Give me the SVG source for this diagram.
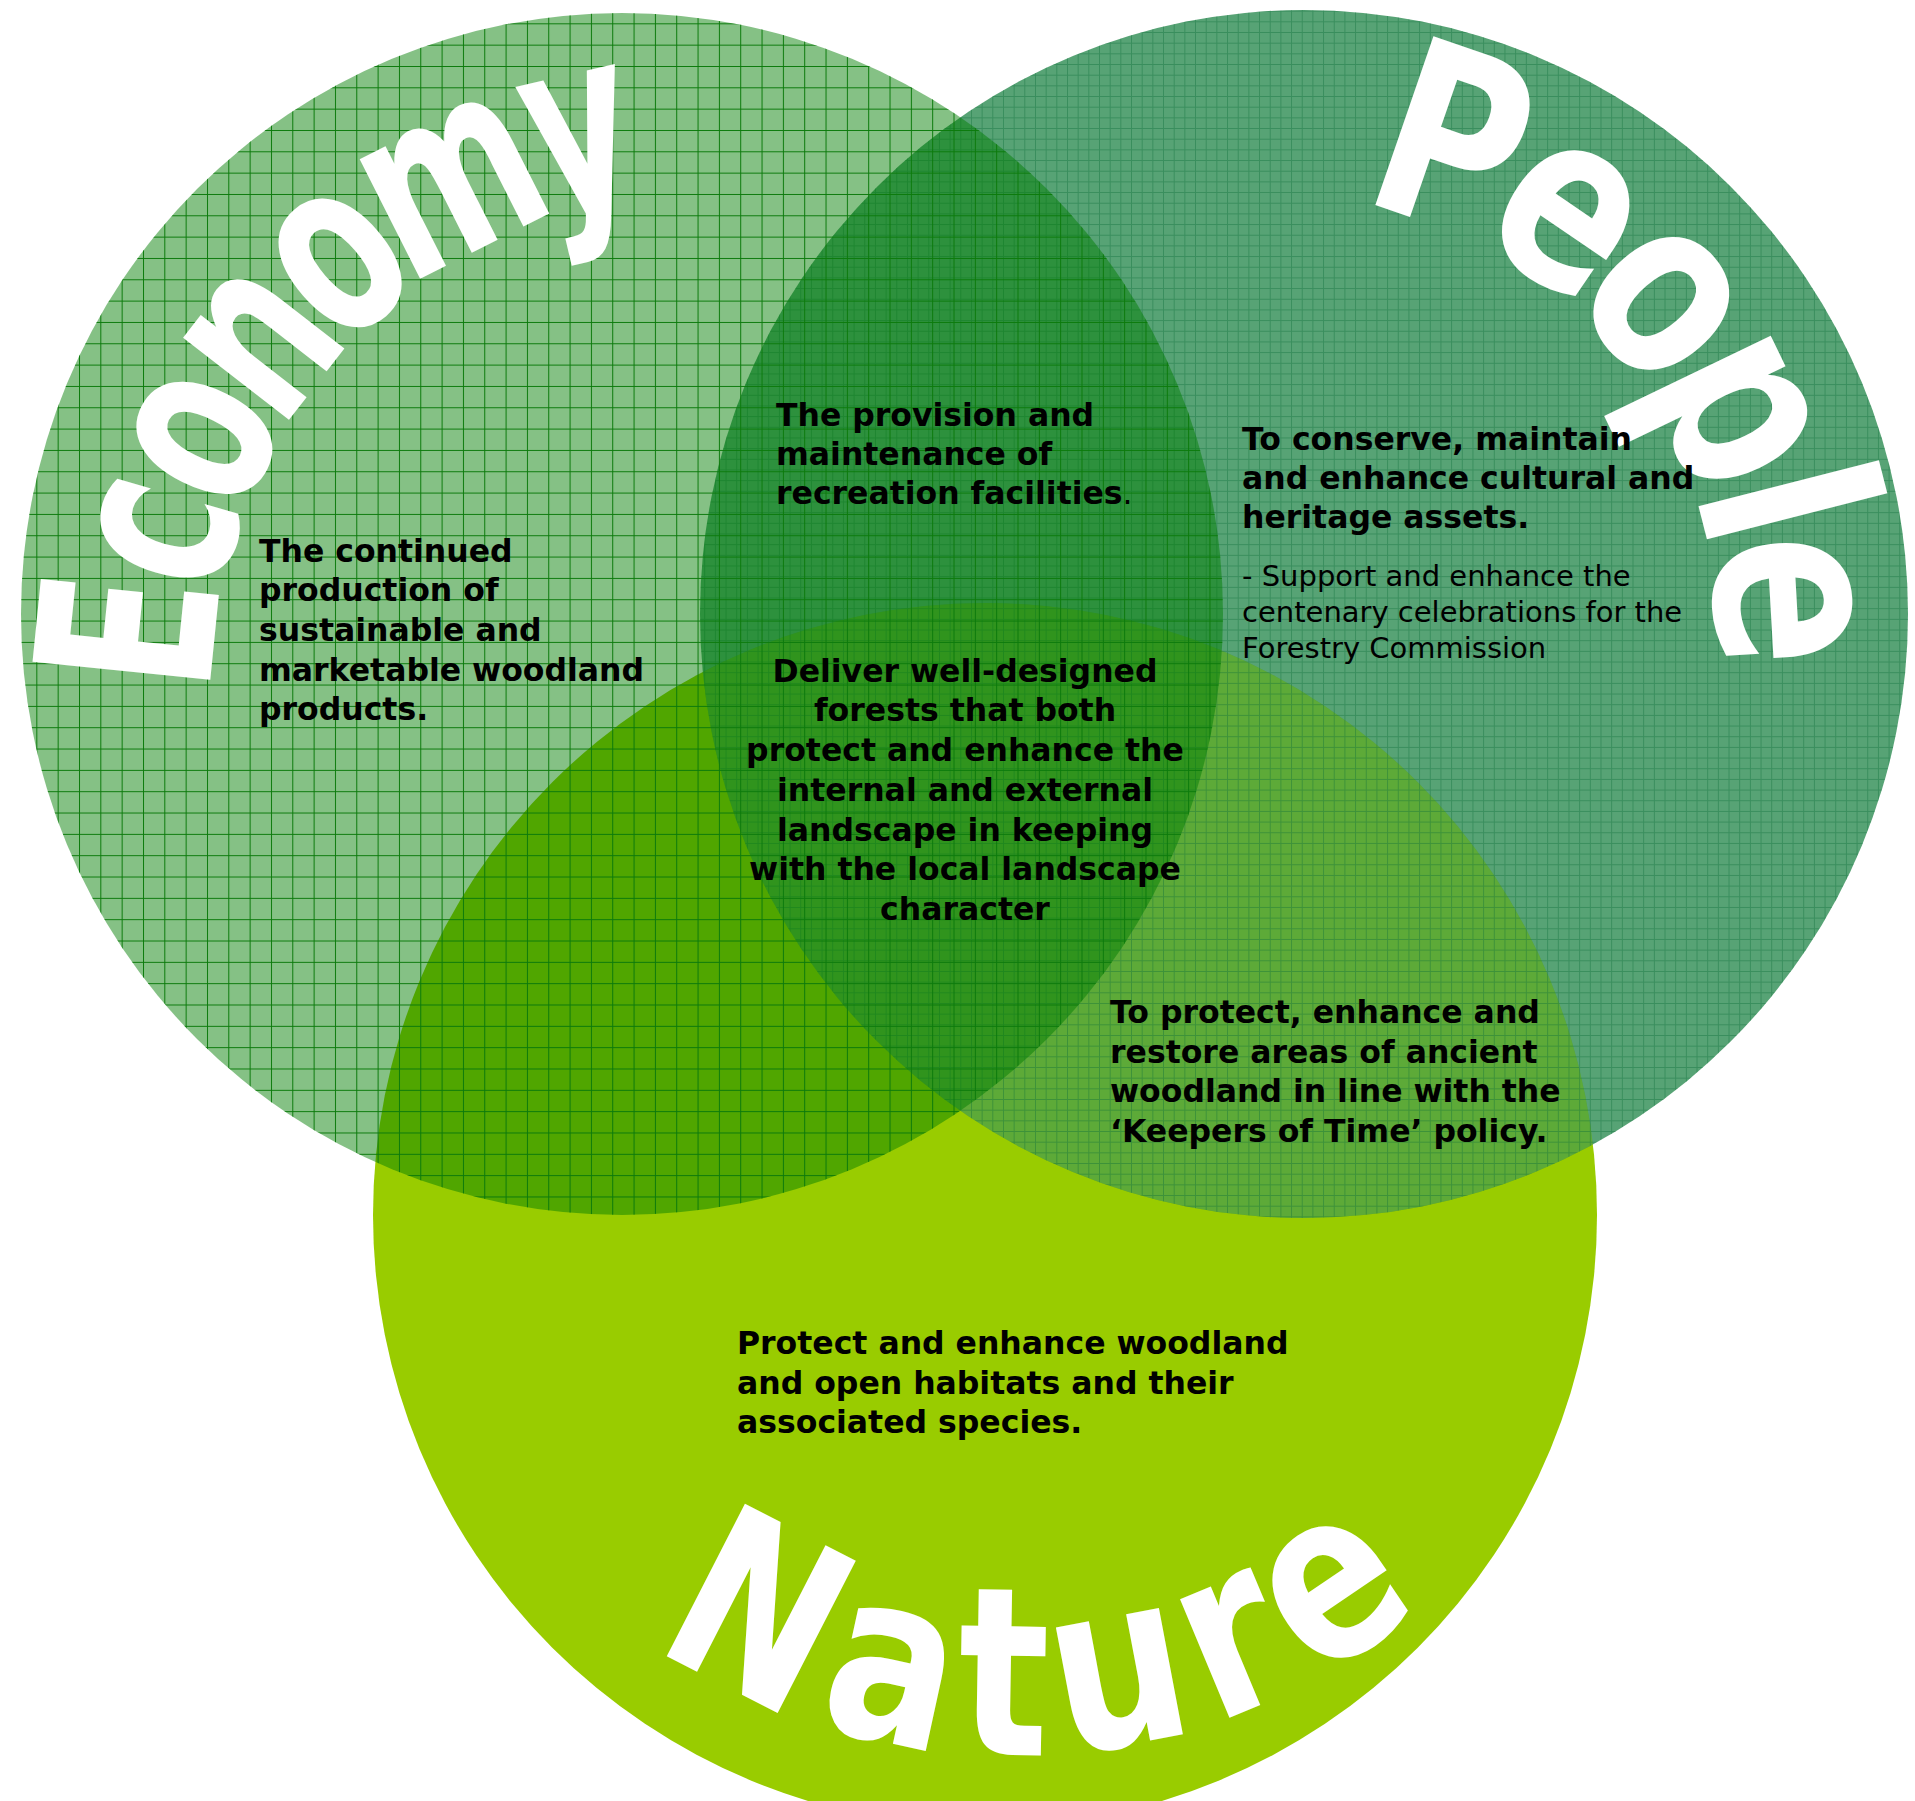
<svg xmlns="http://www.w3.org/2000/svg" width="1915" height="1801" viewBox="0 0 1915 1801">
<style>
.body{font-family:"DejaVu Sans",Verdana,sans-serif;font-size:31.5px;font-weight:bold;fill:#000}
.reg{font-family:"DejaVu Sans",Verdana,sans-serif;font-size:29px;font-weight:normal;fill:#000}
.title{font-family:"DejaVu Sans",Verdana,sans-serif;font-weight:bold;fill:#fff;dominant-baseline:central}
</style>
<defs>
<pattern id="eg" patternUnits="userSpaceOnUse" x="15" y="2" width="21.33" height="21.33">
<path d="M0.5,0V21.33M0,0.5H21.33" stroke="#0b7a0b" stroke-width="1" fill="none"/>
</pattern>
<pattern id="pg" patternUnits="userSpaceOnUse" x="0" y="0" width="10.67" height="10.67">
<path d="M0.5,0V10.67M0,0.5H10.67" stroke="#0c6e3a" stroke-width="1" stroke-opacity="0.4" fill="none"/>
</pattern>
<clipPath id="cpP"><circle cx="1304" cy="614" r="604"/></clipPath>
<path id="pEco" d="M129.2,739.6 A581,581 0 0 1 858.4,127.8"/>
<path id="pPeo" d="M1286,114 A515,515 0 0 1 1783.5,762.3"/>
<path id="pNat" d="M620.6,1510.4 A555,555 0 0 0 1438.2,1474.7"/>
</defs>
<rect width="1915" height="1801" fill="#fff"/>
<g id="nature">
<circle cx="985" cy="1215" r="612" fill="#99cc00"/>
<text class="title" font-size="235"><textPath href="#pNat" startOffset="93.1" textLength="738" lengthAdjust="spacingAndGlyphs">Nature</textPath></text>
<text class="body"><tspan x="737" y="1354">Protect and enhance woodland</tspan><tspan x="737" y="1393.5">and open habitats and their</tspan><tspan x="737" y="1433">associated species.</tspan></text>
</g>
<g id="people">
<circle cx="1304" cy="614" r="604" fill="#00732d" fill-opacity="0.66"/>
<circle cx="985" cy="1215" r="612" clip-path="url(#cpP)" fill="#bee178" fill-opacity="0.3"/>
<circle cx="1304" cy="614" r="604" fill="url(#pg)"/>
<text class="title" font-size="245"><textPath href="#pPeo" startOffset="99.5" textLength="746" lengthAdjust="spacingAndGlyphs">People</textPath></text>
<text class="body"><tspan x="1242" y="450">To conserve, maintain</tspan><tspan x="1242" y="489">and enhance cultural and</tspan><tspan x="1242" y="528">heritage assets.</tspan></text>
<text class="reg"><tspan x="1242" y="586">- Support and enhance the</tspan><tspan x="1242" y="622">centenary celebrations for the</tspan><tspan x="1242" y="658">Forestry Commission</tspan></text>
</g>
<g id="economy">
<circle cx="622" cy="614" r="601" fill="#007d00" fill-opacity="0.48"/>
<circle cx="622" cy="614" r="601" fill="url(#eg)"/>
<text class="title" font-size="245"><textPath href="#pEco" startOffset="53.4" textLength="830.7" lengthAdjust="spacingAndGlyphs">Economy</textPath></text>
<text class="body"><tspan x="259" y="561.7">The continued</tspan><tspan x="259" y="601.3">production of</tspan><tspan x="259" y="640.9">sustainable and</tspan><tspan x="259" y="680.5">marketable woodland</tspan><tspan x="259" y="720">products.</tspan></text>
</g>
<g id="economy-people">
<text class="body"><tspan x="776" y="426">The provision and</tspan><tspan x="776" y="465">maintenance of</tspan><tspan x="776" y="504">recreation facilities<tspan font-weight="normal">.</tspan></tspan></text>
</g>
<g id="all-three">
<text class="body" text-anchor="middle"><tspan x="965" y="681.7">Deliver well-designed</tspan><tspan x="965" y="721.4">forests that both</tspan><tspan x="965" y="761">protect and enhance the</tspan><tspan x="965" y="800.8">internal and external</tspan><tspan x="965" y="840.5">landscape in keeping</tspan><tspan x="965" y="880.2">with the local landscape</tspan><tspan x="965" y="920">character</tspan></text>
</g>
<g id="people-nature">
<text class="body"><tspan x="1110" y="1022.7">To protect, enhance and</tspan><tspan x="1110" y="1062.5">restore areas of ancient</tspan><tspan x="1110" y="1102">woodland in line with the</tspan><tspan x="1110" y="1141.7">‘Keepers of Time’ policy.</tspan></text>
</g>
</svg>
